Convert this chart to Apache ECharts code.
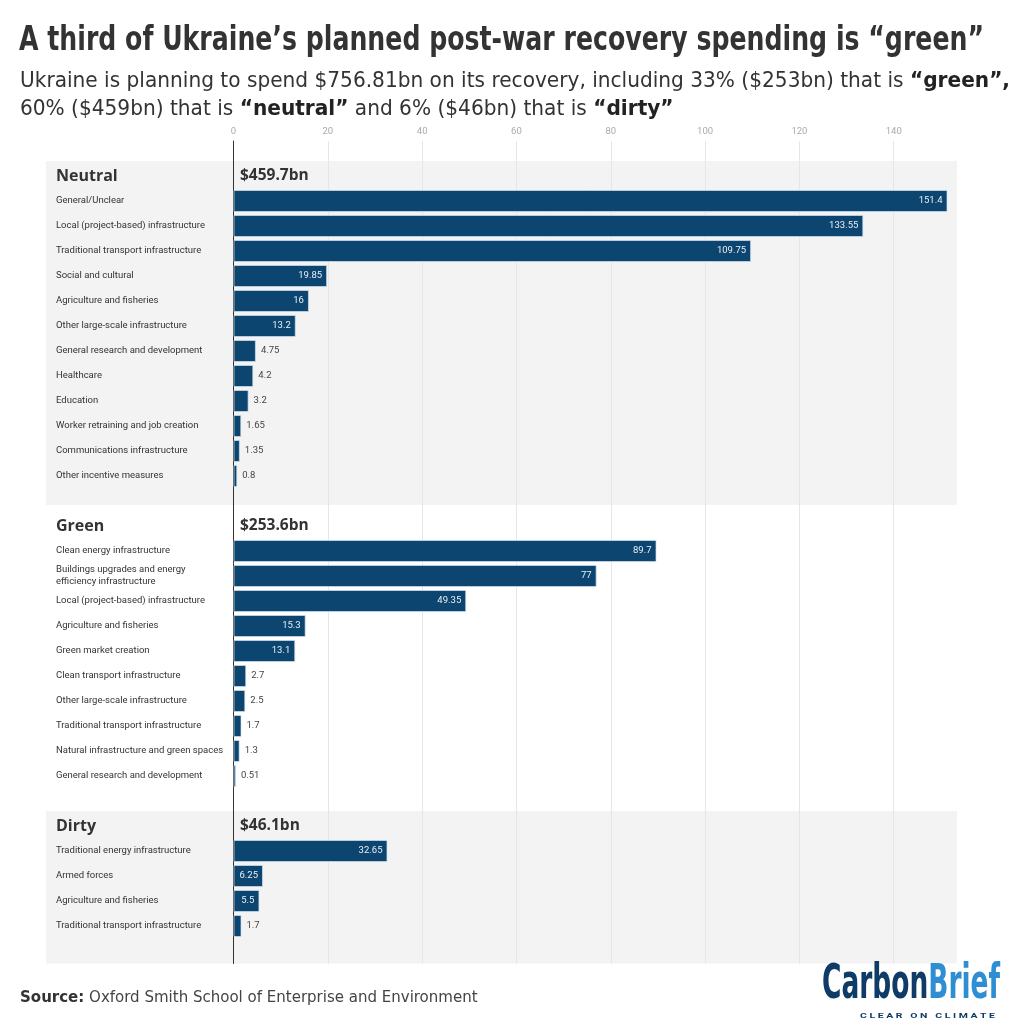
<!DOCTYPE html>
<html><head><meta charset="utf-8">
<script src="https://cdn.jsdelivr.net/npm/echarts@6/dist/echarts.min.js"></script>
<style>html,body{margin:0;padding:0;background:#fff}#c{width:1024px;height:1024px}</style>
</head><body><div id="c"></div>
<script>
const neutralLabels = ['General/Unclear','Local (project-based) infrastructure','Traditional transport infrastructure','Social and cultural','Agriculture and fisheries','Other large-scale infrastructure','General research and development','Healthcare','Education','Worker retraining and job creation','Communications infrastructure','Other incentive measures'];
const neutralValues = [151.4,133.55,109.75,19.85,16,13.2,4.75,4.2,3.2,1.65,1.35,0.8];
const greenLabels = ['Clean energy infrastructure','Buildings upgrades and energy\nefficiency infrastructure','Local (project-based) infrastructure','Agriculture and fisheries','Green market creation','Clean transport infrastructure','Other large-scale infrastructure','Traditional transport infrastructure','Natural infrastructure and green spaces','General research and development'];
const greenValues = [89.7,77,49.35,15.3,13.1,2.7,2.5,1.7,1.3,0.51];
const dirtyLabels = ['Traditional energy infrastructure','Armed forces','Agriculture and fisheries','Traditional transport infrastructure'];
const dirtyValues = [32.65,6.25,5.5,1.7];
const groupNames = ['Neutral','Green','Dirty'];
const groupTotals = ['$459.7bn','$253.6bn','$46.1bn'];
const xTicks = [0,20,40,60,80,100,120,140];

const groups = [
  {name: groupNames[0], total: groupTotals[0], labels: neutralLabels, values: neutralValues},
  {name: groupNames[1], total: groupTotals[1], labels: greenLabels, values: greenValues},
  {name: groupNames[2], total: groupTotals[2], labels: dirtyLabels, values: dirtyValues}
];
const slots = [];
groups.forEach((g, gi) => {
  slots.push({type: 'header', name: g.name, total: g.total, g: gi});
  g.labels.forEach((l, i) => slots.push({type: 'row', label: l, value: g.values[i], g: gi}));
  slots.push({type: 'blank', g: gi});
});
const cats = slots.map((s, i) => 's' + i);
const barData = slots.map(s => {
  if (s.type !== 'row') return '-';
  const inside = s.value >= 5;
  return {value: s.value, label: {position: inside ? 'insideRight' : 'right', color: inside ? '#e8eef4' : '#444', distance: 5}};
});

const SLOT = 25;
const gridBTop = 163.5;
const xMax = neutralValues[0];
const FONT = 'Roboto, sans-serif';
const NARROW = '"DejaVu Sans Condensed", sans-serif';

const mctx = document.createElement('canvas').getContext('2d');
function w(font, txt) { mctx.font = font; return mctx.measureText(txt).width; }

const titleText = 'A third of Ukraine\u2019s planned post-war recovery spending is \u201cgreen\u201d';
const titleFont = 'bold 33px ' + NARROW;
const titleScale = 965 / w(titleFont, titleText);

const subN = '22px ' + NARROW, subB = 'bold 22px ' + NARROW;
const sub1a = 'Ukraine is planning to spend $756.81bn on its recovery, including 33% ($253bn) that is ';
const sub1b = '\u201cgreen\u201d,';
const subScale = 990 / (w(subN, sub1a) + w(subB, sub1b));

const logoFont = 'bold 48px ' + NARROW;
const logoScale = 178 / w(logoFont, 'CarbonBrief');
const tagText = 'C L E A R   O N   C L I M A T E';
const tagFont = 'bold 7.5px ' + FONT;
const tagScale = 135 / w(tagFont, tagText);

const xCommon = {
  type: 'value', min: 0, max: xMax, interval: 20,
  axisLine: {show: false}, axisTick: {show: false},
  splitLine: {show: true, showMaxLine: false, lineStyle: {color: '#e6e6e6', width: 1}}
};

const chart = echarts.init(document.getElementById('c'), null, {renderer: 'canvas'});
chart.setOption({
  animation: false,
  backgroundColor: '#fff',
  grid: [
    {left: 233.5, right: 76.5, top: 141, height: gridBTop - 141},
    {left: 233.5, right: 76.5, top: gridBTop, height: SLOT * slots.length}
  ],
  xAxis: [
    Object.assign({}, xCommon, {gridIndex: 0, position: 'top',
      axisLabel: {show: true, showMaxLabel: false, color: '#aaa', fontSize: 9.5, fontFamily: FONT, margin: 4,
        formatter: v => xTicks.indexOf(v) >= 0 ? String(v) : ''}}),
    Object.assign({}, xCommon, {gridIndex: 1, axisLabel: {show: false}})
  ],
  yAxis: [
    {type: 'category', gridIndex: 0, data: [''], axisTick: {show: false}, axisLabel: {show: false},
      axisLine: {show: true, lineStyle: {color: '#333', width: 1}}},
    {type: 'category', gridIndex: 1, data: cats, inverse: true,
      axisTick: {show: false},
      axisLine: {show: true, lineStyle: {color: '#333', width: 1}},
      axisLabel: {
        show: true, interval: 0, align: 'left', margin: 177.5,
        fontFamily: FONT, fontSize: 9.5, color: '#333', lineHeight: 12,
        formatter: (v, i) => {
          const s = slots[i];
          if (s.type === 'header') return '{h|' + s.name + '}{v|' + s.total + '}';
          if (s.type === 'row') return s.label;
          return '';
        },
        rich: {
          h: {fontFamily: '"Open Sans", sans-serif', fontWeight: 'bold', fontSize: 16, color: '#333', width: 184},
          v: {fontFamily: '"Open Sans", sans-serif', fontWeight: 'bold', fontSize: 15.5, color: '#333'}
        }
      }}
  ],
  series: [{
    type: 'bar', xAxisIndex: 1, yAxisIndex: 1, data: barData,
    barWidth: 22,
    itemStyle: {color: '#0c4670', borderColor: 'rgba(210,225,240,0.7)', borderWidth: 1},
    label: {show: true, fontFamily: FONT, fontSize: 9.5, formatter: p => String(p.value)},
    z: 3
  }],
  graphic: [
    {type: 'text', id: 'title', x: 19, y: 25, scaleX: titleScale, style: {text: titleText, font: titleFont, fill: '#333'}},
    {type: 'text', id: 'sub', x: 20, y: 67, scaleX: subScale, style: {
      text: '{n|' + sub1a + '}{b|' + sub1b + '}\n{n|60% ($459bn) that is }{b|\u201cneutral\u201d}{n| and 6% ($46bn) that is }{b|\u201cdirty\u201d}',
      rich: {
        n: {font: subN, fill: '#333', lineHeight: 28},
        b: {font: subB, fill: '#222', lineHeight: 28}
      }}},
    {type: 'text', id: 'src', x: 20, y: 989, style: {
      text: '{b|Source:}{n| Oxford Smith School of Enterprise and Environment}',
      rich: {b: {font: 'bold 16.7px ' + NARROW, fill: '#333'}, n: {font: '16.7px ' + NARROW, fill: '#444'}}}},
    {type: 'text', id: 'logo', x: 822, y: 962, scaleX: logoScale, style: {
      text: '{a|Carbon}{b|Brief}',
      rich: {a: {font: logoFont, fill: '#0e3c66'}, b: {font: logoFont, fill: '#2e8ed4'}}}},
    {type: 'text', id: 'tag', x: 860, y: 1012, scaleX: tagScale, style: {text: tagText, font: tagFont, fill: '#0e3c66'}}
  ]
});

function yOf(i) { return chart.convertToPixel({yAxisIndex: 1}, cats[i]); }
const headerIdx = slots.map((s, i) => s.type === 'header' ? i : -1).filter(i => i >= 0);
const blankIdx = slots.map((s, i) => s.type === 'blank' ? i : -1).filter(i => i >= 0);
const panels = [];
[0, 2].forEach(gi => {
  const top = yOf(headerIdx[gi]) - 15;
  const bottom = gi === 2 ? yOf(blankIdx[gi]) + 12.5 : yOf(blankIdx[gi]) + 4;
  panels.push({type: 'rect', id: 'panel' + gi, z: -10, silent: true,
    shape: {x: 46, y: top, width: 957 - 46, height: bottom - top},
    style: {fill: '#f3f3f3'}});
});
chart.setOption({graphic: panels});
</script></body></html>
